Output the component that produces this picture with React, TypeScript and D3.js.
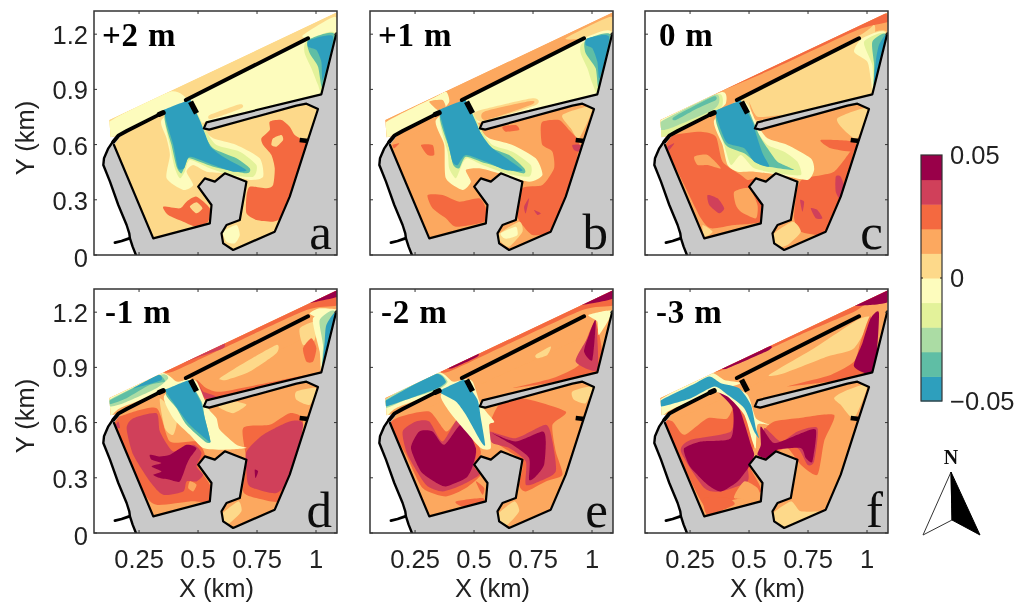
import React from "react";
import * as d3 from "d3";

type Pt = [number, number];
type Contour = [number, Pt[]];

// Colour classes of the field, from -0.05 to 0.05
const classColors = ["#2f9fbd", "#5fbea5", "#abdca4", "#e3f29a", "#fdfcbd", "#fdd98a", "#fca85e", "#f4693f", "#d0405a", "#99004a"];
const xTicks = [0.25, 0.5, 0.75, 1];
const yTicks = [0, 0.3, 0.6, 0.9, 1.2];
const panelTitles = ["+2 m", "+1 m", "0 m", "-1 m", "-2 m", "-3 m"];
const panelLetters = ["a", "b", "c", "d", "e", "f"];
const cbTicks = [0.05, 0, -0.05];

// Site geometry on the model grid (column, row)
const water: Pt[] = [[58,345],[742,22],[740,85],[695,268],[350,352],[340,368],[358,374],[620,302],[650,296],[685,312],[653,410],[600,575],[555,680],[430,735],[400,715],[395,685],[410,660],[450,645],[470,530],[405,505],[375,530],[345,520],[325,545],[365,600],[360,655],[190,700],[72,420],[95,390],[62,397]];
const land: Pt[] = [[72,405],[55,430],[42,460],[40,480],[60,530],[85,600],[110,660],[118,685],[120,700],[128,725],[138,750],[742,750],[742,85]];
const coastWest: Pt[] = [[70,408],[55,430],[42,460],[40,480],[60,530],[85,600],[110,660],[118,685],[120,700],[128,725],[138,750]];
const coastTick: Pt[] = [[75,713],[95,708],[118,700]];
const basinEdge: Pt[] = [[72,420],[190,700],[360,655],[365,600],[325,545],[345,520],[375,530],[405,505],[470,530],[450,645],[410,660],[395,685],[400,715],[430,735],[555,680],[600,575],[653,410],[685,312],[650,296],[620,302],[358,374],[342,370],[350,352],[695,268],[740,85]];
const breakwater: Pt[] = [[70,410],[85,392],[110,378],[215,325]];
const breakwaterTip: Pt[] = [[208,328],[220,323]];
const northWall: Pt[] = [[288,285],[655,100]];
const shortWall: Pt[] = [[302,290],[320,325]];
const notch: Pt[] = [[630,405],[655,408]];

const panelA: Contour[] = [
  [5,[[40,340],[760,0],[760,100],[60,420]]],
  [4,[[58,350],[240,260],[290,285],[220,320],[90,385],[60,395]]],
  [4,[[640,90],[735,35],[745,85],[660,100]]],
  [4,[[290,290],[655,100],[740,85],[695,268],[350,352],[320,325]]],
  [5,[[360,330],[450,298],[455,310],[365,342]]],
  [3,[[650,110],[735,85],[700,265],[685,240],[665,190],[645,145]]],
  [1,[[655,105],[735,88],[700,250],[685,185],[660,145]]],
  [0,[[660,105],[730,95],[700,225],[695,170],[680,135],[655,125]]],
  [7,[[575,345],[600,365],[615,390],[650,420],[625,520],[600,575],[570,640],[550,650],[500,645],[470,625],[470,575],[480,545],[530,550],[550,540],[555,490],[545,450],[520,420],[515,400],[540,375],[540,350]]],
  [5,[[550,400],[575,390],[580,405],[560,425],[545,420]]],
  [7,[[220,605],[270,610],[290,590],[320,575],[360,610],[355,650],[320,665],[280,650],[235,630]]],
  [5,[[300,605],[320,592],[338,610],[320,625]]],
  [4,[[400,680],[440,660],[450,690],[435,715],[410,710]]],
  [4,[[215,345],[230,400],[240,450],[230,520],[280,555],[310,540],[290,500],[310,480],[350,500],[400,505],[480,525],[520,515],[510,460],[440,420],[370,400],[340,370],[300,290]]],
  [3,[[225,330],[240,420],[255,490],[270,520],[285,500],[300,465],[360,490],[420,510],[490,515],[500,480],[450,440],[380,420],[350,380],[320,320],[300,290]]],
  [1,[[225,330],[245,420],[260,485],[275,505],[290,470],[300,460],[370,485],[470,505],[480,490],[440,460],[370,430],[340,380],[315,320],[300,295]]],
  [0,[[222,318],[228,312],[298,285],[304,290],[332,350],[345,385],[362,425],[400,455],[470,495],[430,500],[370,480],[300,455],[283,490],[265,490],[250,420],[235,370]]],
];
const panelB: Contour[] = [
  [6,[[40,340],[760,0],[760,100],[60,420]]],
  [4,[[55,355],[200,280],[240,260],[250,290],[220,320],[90,385],[60,400]]],
  [6,[[190,290],[230,285],[240,310],[220,318]]],
  [5,[[600,100],[735,35],[745,85],[660,100]]],
  [4,[[290,290],[655,100],[740,85],[695,268],[350,352],[320,325]]],
  [5,[[330,320],[500,280],[510,300],[350,350]]],
  [6,[[355,320],[495,288],[495,300],[360,345]]],
  [3,[[650,115],[735,90],[700,265],[680,235],[665,190],[645,145]]],
  [1,[[660,105],[735,90],[700,250],[690,190],[660,145]]],
  [0,[[665,100],[730,95],[702,220],[695,170],[680,130],[660,120]]],
  [5,[[590,330],[680,305],[640,400],[615,370]]],
  [7,[[530,350],[580,345],[610,375],[640,415],[620,520],[600,580],[570,660],[550,685],[500,690],[470,660],[455,630],[470,550],[530,540],[565,490],[560,440],[530,420],[525,380]]],
  [8,[[620,420],[645,420],[640,440],[625,435]]],
  [8,[[475,605],[490,580],[480,625]]],
  [8,[[505,615],[525,625],[515,630]]],
  [5,[[395,690],[460,650],[470,680],[430,725],[405,710]]],
  [4,[[405,685],[450,665],[455,690],[430,700],[415,700]]],
  [7,[[185,570],[230,570],[280,590],[340,580],[360,610],[355,650],[270,665],[240,640],[200,610]]],
  [7,[[165,420],[200,420],[205,450],[185,450]]],
  [7,[[80,420],[100,415],[85,430]]],
  [7,[[410,365],[450,360],[460,375],[420,380]]],
  [4,[[210,345],[235,420],[240,520],[290,555],[315,530],[300,495],[340,490],[400,505],[490,530],[530,510],[510,460],[440,420],[370,400],[340,370],[300,290]]],
  [3,[[222,335],[245,440],[250,490],[270,520],[290,475],[305,460],[350,480],[420,505],[490,515],[495,480],[440,440],[380,420],[350,380],[320,320],[300,290]]],
  [1,[[222,330],[250,430],[262,480],[280,490],[300,455],[360,475],[470,505],[475,490],[430,450],[370,425],[340,375],[315,320],[298,293]]],
  [0,[[220,320],[226,312],[295,285],[302,290],[330,350],[345,385],[380,430],[470,495],[420,495],[360,470],[300,450],[275,480],[260,470],[245,410]]],
];
const panelC: Contour[] = [
  [6,[[40,340],[760,0],[760,100],[60,420]]],
  [7,[[245,255],[640,65],[730,25],[745,50],[650,75],[400,190],[260,250]]],
  [5,[[300,280],[650,95],[700,60],[700,90],[660,100],[300,290]]],
  [4,[[50,350],[240,262],[255,295],[220,322],[90,385],[60,400]]],
  [3,[[58,355],[230,268],[245,300],[220,320],[90,385],[62,395]]],
  [2,[[60,350],[220,270],[235,290],[215,315],[100,365],[62,375]]],
  [1,[[100,335],[215,275],[225,285],[170,310],[105,345]]],
  [5,[[290,290],[655,100],[740,85],[695,268],[350,352],[320,325]]],
  [6,[[325,290],[345,345],[420,330],[350,335]]],
  [4,[[640,140],[665,100],[735,85],[700,265],[690,220],[680,170]]],
  [3,[[670,110],[735,88],[700,255],[695,180]]],
  [1,[[695,110],[735,90],[702,245],[700,175]]],
  [0,[[715,120],[738,90],[700,240],[705,170]]],
  [7,[[75,420],[100,390],[180,380],[225,395],[245,470],[300,510],[320,525],[345,520],[325,545],[365,600],[360,650],[280,660],[210,670],[180,640],[130,540]]],
  [6,[[160,455],[200,450],[240,490],[200,480],[170,480]]],
  [6,[[280,560],[325,550],[350,600],[345,640],[300,620],[285,600]]],
  [8,[[200,570],[230,580],[250,610],[235,625],[205,600]]],
  [5,[[185,660],[215,680],[190,695]]],
  [8,[[80,425],[100,415],[85,435]]],
  [7,[[490,520],[580,500],[640,430],[600,575],[570,650],[550,690],[480,680],[460,640],[470,550]]],
  [8,[[585,515],[600,515],[615,560],[600,585],[585,560]]],
  [8,[[510,610],[530,615],[545,640],[525,640]]],
  [8,[[478,585],[490,590],[485,620]]],
  [5,[[395,690],[455,650],[480,680],[440,720],[410,725]]],
  [5,[[590,340],[680,310],[650,400],[610,375]]],
  [7,[[540,405],[640,410],[640,440],[570,430]]],
  [4,[[220,345],[245,420],[260,480],[290,500],[340,500],[420,510],[500,525],[520,495],[510,460],[440,420],[380,400],[350,360],[310,290]]],
  [3,[[225,335],[250,420],[270,480],[300,450],[340,490],[410,505],[480,510],[470,470],[430,440],[380,420],[350,380],[320,320],[300,290]]],
  [1,[[225,335],[255,420],[310,445],[360,480],[460,495],[410,470],[380,430],[355,390],[325,320],[300,292]]],
  [0,[[222,320],[228,315],[296,287],[303,292],[335,350],[345,385],[365,445],[385,485],[340,470],[310,430],[260,415],[240,375]]],
];
const panelD: Contour[] = [
  [6,[[40,330],[760,-10],[760,100],[60,420]]],
  [7,[[245,245],[650,50],[735,15],[745,60],[650,75],[400,190],[250,260]]],
  [8,[[250,245],[330,205],[400,175],[400,190],[330,215]]],
  [9,[[640,55],[740,12],[745,35],[680,50]]],
  [4,[[660,85],[690,70],[745,75],[735,100],[680,95]]],
  [4,[[50,345],[210,265],[260,290],[290,285],[220,320],[90,370],[60,395]]],
  [2,[[58,345],[210,270],[235,280],[200,310],[100,355],[60,365]]],
  [1,[[58,348],[150,300],[205,270],[225,290],[180,300],[110,340],[60,358]]],
  [0,[[130,310],[205,270],[215,285],[170,300]]],
  [7,[[320,285],[345,345],[700,262],[600,280],[400,320],[350,310]]],
  [5,[[390,280],[470,230],[560,180],[560,205],[480,260],[410,285]]],
  [5,[[630,130],[680,110],[675,165],[640,180]]],
  [7,[[640,190],[665,160],[680,190],[670,230],[650,230]]],
  [8,[[325,290],[345,340],[380,335],[340,320]]],
  [4,[[670,100],[735,80],[697,262],[690,200]]],
  [2,[[690,105],[735,82],[697,262],[700,180]]],
  [0,[[710,120],[738,85],[698,255],[705,170]]],
  [7,[[72,420],[105,390],[200,370],[240,470],[320,470],[345,510],[325,545],[360,600],[360,650],[300,650],[200,660],[160,620]]],
  [8,[[110,430],[130,400],[200,385],[210,440],[250,500],[310,480],[335,505],[320,545],[340,570],[320,590],[290,590],[280,620],[220,630],[180,590],[130,510]]],
  [9,[[180,510],[210,515],[240,510],[290,480],[320,490],[300,520],[290,540],[270,590],[240,585],[210,580],[190,570],[215,560],[185,545],[215,535],[185,525]]],
  [6,[[300,590],[320,600],[310,620],[295,610]]],
  [8,[[75,425],[85,410],[90,430]]],
  [7,[[460,430],[540,420],[600,385],[640,410],[600,580],[570,650],[500,640],[460,620],[470,530]]],
  [8,[[470,500],[520,450],[600,410],[640,420],[605,570],[560,625],[480,605],[470,560]]],
  [9,[[495,555],[505,560],[497,580]]],
  [5,[[395,690],[445,650],[455,680],[420,715],[405,715]]],
  [5,[[620,320],[680,310],[660,360],[620,345]]],
  [5,[[385,365],[430,350],[470,360],[430,385]]],
  [5,[[210,340],[260,400],[250,450],[225,430]]],
  [4,[[222,335],[250,400],[300,450],[340,490],[400,495],[470,490],[440,480],[390,435],[380,400],[355,370],[320,290],[285,285]]],
  [1,[[228,325],[295,293],[335,350],[345,400],[362,470],[345,470],[290,420],[260,370]]],
  [0,[[226,318],[232,312],[293,287],[300,292],[332,350],[345,400],[362,470],[345,460],[295,415],[262,370]]],
];
const panelE: Contour[] = [
  [6,[[40,330],[760,-10],[760,100],[60,420]]],
  [7,[[245,245],[650,50],[735,15],[745,60],[650,75],[400,190],[250,260]]],
  [9,[[245,245],[330,200],[335,215],[260,250]]],
  [9,[[630,60],[740,12],[745,40],[680,55]]],
  [4,[[50,350],[210,262],[260,290],[290,285],[220,320],[90,370],[60,395]]],
  [2,[[57,345],[205,265],[245,290],[215,315],[120,345],[60,370]]],
  [0,[[55,350],[205,268],[240,290],[215,310],[120,345],[60,365]]],
  [7,[[440,310],[560,280],[640,240],[660,170],[690,110],[700,260]]],
  [8,[[630,230],[665,160],[690,110],[695,255]]],
  [9,[[655,200],[670,150],[690,105],[680,225]]],
  [5,[[510,210],[555,185],[545,210],[515,220]]],
  [4,[[668,90],[740,78],[700,150],[695,110]]],
  [7,[[72,420],[105,395],[190,380],[240,440],[270,410],[300,400],[345,500],[325,545],[345,570],[300,610],[240,635],[170,610],[120,510]]],
  [8,[[110,440],[150,410],[190,410],[230,470],[280,400],[330,490],[325,545],[340,570],[290,600],[230,620],[180,600],[125,510]]],
  [9,[[135,490],[160,440],[200,440],[235,480],[290,415],[330,490],[320,545],[300,580],[240,605],[205,590],[165,560]]],
  [7,[[270,650],[350,640],[350,655],[290,665]]],
  [7,[[330,590],[355,610],[350,630]]],
  [7,[[400,360],[470,340],[600,380],[560,420],[570,500],[590,570],[540,590],[480,620],[460,600],[470,530],[400,480],[370,440],[370,420]]],
  [8,[[370,440],[450,460],[540,420],[560,470],[570,560],[520,590],[480,600],[480,530],[430,490],[380,475]]],
  [9,[[380,445],[450,470],[530,440],[540,470],[535,540],[510,575],[490,585],[490,520],[440,480]]],
  [5,[[395,690],[445,650],[460,680],[425,720],[405,715]]],
  [5,[[620,320],[680,305],[660,355],[625,345]]],
  [4,[[225,330],[250,380],[300,440],[345,490],[375,490],[370,420],[385,410],[345,360],[320,290],[290,285]]],
  [0,[[226,315],[290,285],[300,292],[335,345],[345,400],[358,480],[345,470],[300,390],[270,350],[225,325]]],
];
const panelF: Contour[] = [
  [6,[[40,330],[760,-10],[760,100],[60,420]]],
  [7,[[245,245],[740,15],[745,45],[680,55],[640,80],[500,140],[260,250]]],
  [9,[[620,60],[742,12],[745,50],[690,60]]],
  [9,[[250,245],[380,185],[385,195],[260,250]]],
  [5,[[385,270],[520,190],[650,105],[690,100],[640,190],[560,215],[430,265]]],
  [7,[[440,305],[570,270],[640,230],[660,170],[690,95],[700,260]]],
  [9,[[640,245],[665,175],[690,100],[715,85],[700,262]]],
  [4,[[50,350],[200,265],[250,285],[300,295],[220,320],[90,375],[60,395]]],
  [7,[[72,420],[95,410],[130,450],[200,400],[260,400],[300,330],[340,470],[325,540],[360,620],[260,650],[210,685],[170,630]]],
  [8,[[120,500],[150,465],[270,440],[285,360],[330,480],[320,540],[320,590],[240,620],[190,610]]],
  [9,[[130,490],[180,470],[270,460],[275,370],[225,315],[290,360],[330,480],[340,510],[325,545],[290,590],[240,620],[200,600],[150,550],[135,520]]],
  [6,[[310,590],[350,610],[355,640],[280,640]]],
  [7,[[190,640],[260,640],[280,660],[200,690]]],
  [7,[[400,410],[470,400],[580,390],[550,470],[530,570],[480,540],[440,490],[400,500],[370,440]]],
  [8,[[370,430],[420,470],[470,440],[530,430],[520,530],[500,540],[470,490],[400,490],[380,520]]],
  [9,[[360,425],[400,475],[470,450],[525,435],[515,530],[495,520],[480,490],[410,495],[380,520],[350,510],[360,480]]],
  [5,[[395,690],[450,650],[480,680],[560,680],[550,695],[430,735]]],
  [5,[[610,320],[680,300],[640,400],[600,360],[580,340]]],
  [4,[[215,290],[260,300],[320,330],[345,400],[385,420],[350,420],[345,490],[335,470],[310,390],[260,335],[200,310]]],
  [0,[[58,348],[155,300],[205,275],[240,295],[295,310],[330,360],[345,430],[355,460],[340,440],[310,370],[260,330],[220,305],[150,340],[60,365]]],
];
const panelContours = [panelA, panelB, panelC, panelD, panelE, panelF];

// Layout of the six axes
const colLeft = [94, 370, 645];
const rowTop = [11, 289];
const plotW = 243;
const plotH = 244;

const siteLine = d3.line();
const fieldLine = d3.line().curve(d3.curveCardinalClosed.tension(0.35));

function Panel({ index }: { index: number }) {
  const col = index % 3;
  const row = Math.floor(index / 3);
  const left = colLeft[col];
  const top = rowTop[row];
  const xKm = d3.scaleLinear().domain([0.059, 1.089]).range([left, left + plotW]);
  const yKm = d3.scaleLinear().domain([0, 1.326]).range([top + plotH, top]);
  const gx = d3.scaleLinear().domain([12, 742]).range([left, left + plotW]);
  const gy = d3.scaleLinear().domain([18, 750]).range([top, top + plotH]);
  const cy = d3.scaleLinear().domain(row === 0 ? [18, 750] : [12, 745]).range([top, top + plotH]);
  const site = (p: Pt[]) => p.map(([a, b]) => [gx(a), gy(b)] as Pt);
  const field = (p: Pt[]) => p.map(([a, b]) => [gx(a), cy(b)] as Pt);
  const clipA = `ax${index}`;
  const clipW = `wa${index}`;
  const base = index === 0 ? 5 : 6;
  const tickColor = "#333";
  const lab = { fontFamily: "'Liberation Sans', Arial, sans-serif", fontSize: 25.5, fill: "#222" };
  return (
    <g>
      <clipPath id={clipA}><rect x={left} y={top} width={plotW} height={plotH} /></clipPath>
      <clipPath id={clipW}><path d={siteLine(site(water)) + "Z"} /></clipPath>
      <g clipPath={`url(#${clipA})`}>
        <path d={siteLine(site(land)) + "Z"} fill="#c9c9c9" />
        <g clipPath={`url(#${clipW})`}>
          <path d={siteLine(site(water)) + "Z"} fill={classColors[base]} />
          {panelContours[index].map(([lvl, pts], i) => (
            <path key={i} d={fieldLine(field(pts)) || ""} fill={classColors[lvl]} />
          ))}
        </g>
        <g fill="none" stroke="#000" strokeLinejoin="round" strokeLinecap="round">
          <path d={siteLine(site(coastWest)) || ""} strokeWidth={2.4} />
          <path d={siteLine(site(coastTick)) || ""} strokeWidth={2.8} />
          <path d={siteLine(site(basinEdge)) || ""} strokeWidth={2.2} />
          <path d={siteLine(site(breakwater)) || ""} strokeWidth={3.8} />
          <path d={siteLine(site(breakwaterTip)) || ""} strokeWidth={5} />
          <path d={siteLine(site(northWall)) || ""} strokeWidth={4} />
          <path d={siteLine(site(shortWall)) || ""} strokeWidth={5.5} strokeLinecap="butt" />
          <path d={siteLine(site(notch)) || ""} strokeWidth={4.5} strokeLinecap="butt" />
        </g>
      </g>
      <rect x={left} y={top} width={plotW} height={plotH} fill="none" stroke={tickColor} strokeWidth={1.5} />
      {xTicks.map((t) => (
        <g key={t} stroke={tickColor} strokeWidth={1}>
          <line x1={xKm(t)} x2={xKm(t)} y1={top + plotH} y2={top + plotH - 3} />
          <line x1={xKm(t)} x2={xKm(t)} y1={top} y2={top + 3} />
        </g>
      ))}
      {yTicks.map((t) => (
        <g key={t} stroke={tickColor} strokeWidth={1}>
          <line x1={left} x2={left + 3} y1={yKm(t)} y2={yKm(t)} />
          <line x1={left + plotW} x2={left + plotW - 3} y1={yKm(t)} y2={yKm(t)} />
        </g>
      ))}
      {row === 1 && xTicks.map((t) => (
        <text key={t} x={xKm(t)} y={top + plotH + 35} textAnchor="middle" {...lab}>{String(t)}</text>
      ))}
      {col === 0 && yTicks.map((t) => (
        <text key={t} x={left - 6} y={yKm(t) + (t === 0 ? 12 : 10)} textAnchor="end" {...lab}>{String(t)}</text>
      ))}
      {row === 1 && (
        <text x={left + plotW / 2 + 1} y={top + plotH + 64} textAnchor="middle" {...lab}>X (km)</text>
      )}
      {col === 0 && (
        <text transform={`translate(${left - 60},${top + plotH / 2 + 5}) rotate(-90)`} textAnchor="middle" {...lab}>Y (km)</text>
      )}
      <text x={left + 8 + (index === 2 ? 6 : 0) + (index >= 3 ? 3 : 0)} y={top + 35 - (row === 1 ? 1 : 0)} letterSpacing={0.8}
        fontFamily="'Liberation Serif', serif" fontWeight="bold" fontSize={33} fill="#000">{panelTitles[index]}</text>
      <text x={left + plotW - 5} y={top + plotH - 6} textAnchor="end"
        fontFamily="'Liberation Serif', serif" fontSize={51} fill="#111">{panelLetters[index]}</text>
    </g>
  );
}

export default function App() {
  const cb = d3.scaleLinear().domain([-0.05, 0.05]).range([401, 155]);
  const step = 0.01;
  return (
    <svg width={1017} height={603} style={{ position: "absolute", left: 0, top: 0, background: "#fff" }}>
      <defs>
        <filter id="soft" filterUnits="userSpaceOnUse" x={0} y={0} width={1017} height={603}><feGaussianBlur stdDeviation={0.45} /></filter>
      </defs>
      <g filter="url(#soft)">
        <rect width={1017} height={603} fill="#fff" />
        {panelTitles.map((_, i) => <Panel key={i} index={i} />)}
        {classColors.map((c, i) => (
          <rect key={i} x={921} width={21} y={cb(-0.05 + (i + 1) * step)} height={cb(-0.05 + i * step) - cb(-0.05 + (i + 1) * step) + 0.5} fill={c} />
        ))}
        <rect x={921} y={155} width={21} height={246} fill="none" stroke="#333" strokeWidth={1.2} />
        <line x1={921} x2={923} y1={cb(0)} y2={cb(0)} stroke="#222" />
        <line x1={942} x2={940} y1={cb(0)} y2={cb(0)} stroke="#222" />
        {cbTicks.map((t) => (
          <text key={t} x={950} y={cb(t) + 9} fontFamily="'Liberation Sans', Arial, sans-serif" fontSize={25.5} fill="#222">
            {t < 0 ? "\u22120.05" : String(t)}
          </text>
        ))}
        <text x={951} y={464} textAnchor="middle" fontFamily="'Liberation Serif', serif" fontWeight="bold" fontSize={20} fill="#111">N</text>
        <path d="M951,472L923,535L952,520Z" fill="#fff" stroke="#333" strokeWidth={1} />
        <path d="M951,472L952,520L980,535Z" fill="#000" stroke="#000" strokeWidth={1} />
      </g>
    </svg>
  );
}
